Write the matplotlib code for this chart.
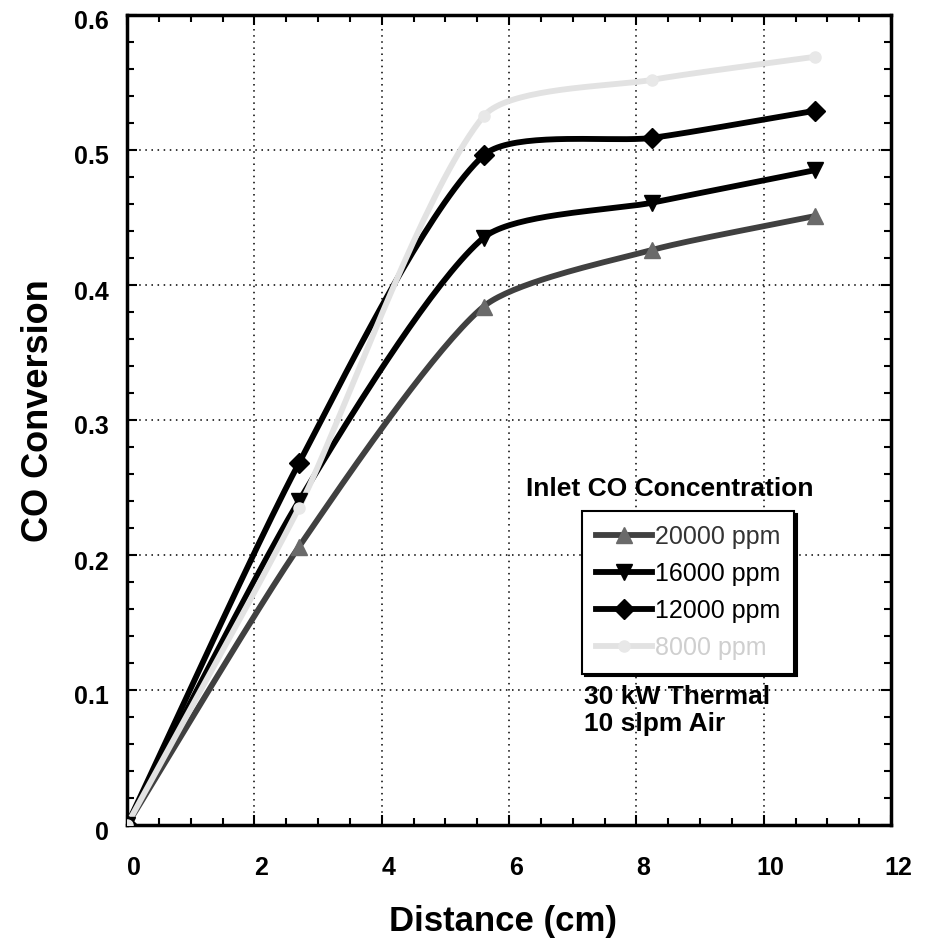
import numpy as np
import matplotlib
matplotlib.use("Agg")
import matplotlib.pyplot as plt
from matplotlib.ticker import MultipleLocator, FuncFormatter
from matplotlib.transforms import ScaledTranslation

plt.rcParams['font.family'] = ['Liberation Sans', 'DejaVu Sans']

# === Datos ===
distancia = [0, 2.7, 5.6, 8.25, 10.8]
conv_20000 = [0, 0.206, 0.384, 0.426, 0.451]
conv_16000 = [0, 0.240, 0.435, 0.461, 0.485]
conv_12000 = [0, 0.268, 0.496, 0.509, 0.529]
conv_8000 = [0, 0.235, 0.525, 0.552, 0.569]
etiquetas = ["20000 ppm", "16000 ppm", "12000 ppm", "8000 ppm"]


def suavizar(x, y, s=0.22, n=40):
    # linea suavizada tipo Excel (Bezier), solo para el trazo
    sx, sy = 764 / 12, 810 / 0.6
    p = np.column_stack([np.array(x) * sx, np.array(y) * sy])
    m = len(p)
    d = np.zeros_like(p)
    for i in range(m):
        a = p[max(i - 1, 0)]
        b = p[min(i + 1, m - 1)]
        v = b - a
        d[i] = v / np.linalg.norm(v)
    out = []
    t = np.linspace(0, 1, n)[:, None]
    for i in range(m - 1):
        L = np.linalg.norm(p[i + 1] - p[i])
        c1 = p[i] + d[i] * L * s
        c2 = p[i + 1] - d[i + 1] * L * s
        out.append((1 - t)**3 * p[i] + 3 * (1 - t)**2 * t * c1
                   + 3 * (1 - t) * t**2 * c2 + t**3 * p[i + 1])
    c = np.vstack(out)
    return c[:, 0] / sx, c[:, 1] / sy


fig = plt.figure(figsize=(9.27, 9.43), dpi=100)
ax = fig.add_axes([127 / 927, 1 - 825 / 943, 764 / 927, 810 / 943])

series = [
    (conv_20000, "#404040", "^", "#6a6a6a", 12),
    (conv_16000, "black", "v", "black", 12),
    (conv_12000, "black", "D", "black", 10),
    (conv_8000, "#e2e2e2", "o", "#e8e8e8", 8),
]

handles = []
for (vals, col, mk, mcol, ms), lab in zip(series, etiquetas):
    xs, ys = suavizar(distancia, vals)
    ax.plot(xs, ys, color=col, lw=4.2, zorder=3, solid_capstyle="round")
    ax.plot(distancia, vals, linestyle="none", marker=mk, color=mcol, ms=ms, zorder=4)
    h, = ax.plot([], [], color=col, lw=4.2, marker=mk, mfc=mcol, mec=mcol, ms=ms)
    handles.append(h)

ax.set_xlim(0, 12)
ax.set_ylim(0, 0.6)
ax.xaxis.set_major_locator(MultipleLocator(2))
ax.xaxis.set_minor_locator(MultipleLocator(0.5))
ax.yaxis.set_major_locator(MultipleLocator(0.1))
ax.yaxis.set_minor_locator(MultipleLocator(0.02))
ax.yaxis.set_major_formatter(FuncFormatter(lambda v, p: "0" if abs(v) < 1e-9 else f"{v:.1f}"))

ax.tick_params(which="both", direction="in", top=True, right=True, width=1.5)
ax.tick_params(which="major", length=7)
ax.tick_params(axis="x", which="major", pad=22)
ax.tick_params(axis="y", which="major", pad=13)
ax.tick_params(which="minor", length=5)
for lbl in ax.get_xticklabels():
    lbl.set_fontweight("bold")
    lbl.set_fontsize(18)
    lbl.set_transform(lbl.get_transform() + ScaledTranslation(0.07, 0, fig.dpi_scale_trans))
for lbl in ax.get_yticklabels():
    lbl.set_fontweight("bold")
    lbl.set_fontsize(18)
    lbl.set_transform(lbl.get_transform() + ScaledTranslation(0, -0.05, fig.dpi_scale_trans))
for sp in ax.spines.values():
    sp.set_linewidth(2.5)

ax.grid(True, which="major", color="black", linestyle=(0, (1, 3)), linewidth=1.1)

fig.text(503 / 927, 1 - 921 / 943, "Distance (cm)", fontsize=25, fontweight="bold",
         ha="center", va="center")
fig.text(39 / 927, 1 - 411 / 943, "CO Conversion", fontsize=26, fontweight="bold",
         ha="center", va="center", rotation=90)

fig.text(670 / 927, 1 - 489 / 943, "Inlet CO Concentration", fontsize=19,
         fontweight="bold", ha="center", va="center")

leg = ax.legend(handles, etiquetas, loc="upper left",
                bbox_to_anchor=(582 / 927, 1 - 511 / 943), bbox_transform=fig.transFigure,
                fontsize=18, handlelength=2.25, handletextpad=0.12, borderpad=0.55,
                labelspacing=0.52, fancybox=False, framealpha=1, borderaxespad=0,
                shadow={"color": "black", "alpha": 1})
leg.get_frame().set_edgecolor("black")
leg.get_frame().set_linewidth(1.5)
leg.texts[3].set_color("#cfcfcf")
leg.texts[0].set_color("#333333")

fig.text(584 / 927, 1 - 697 / 943, "30 kW Thermal", fontsize=19, fontweight="bold",
         ha="left", va="center")
fig.text(584 / 927, 1 - 724 / 943, "10 slpm Air", fontsize=19, fontweight="bold",
         ha="left", va="center")

fig.savefig("out.png", dpi=100)
